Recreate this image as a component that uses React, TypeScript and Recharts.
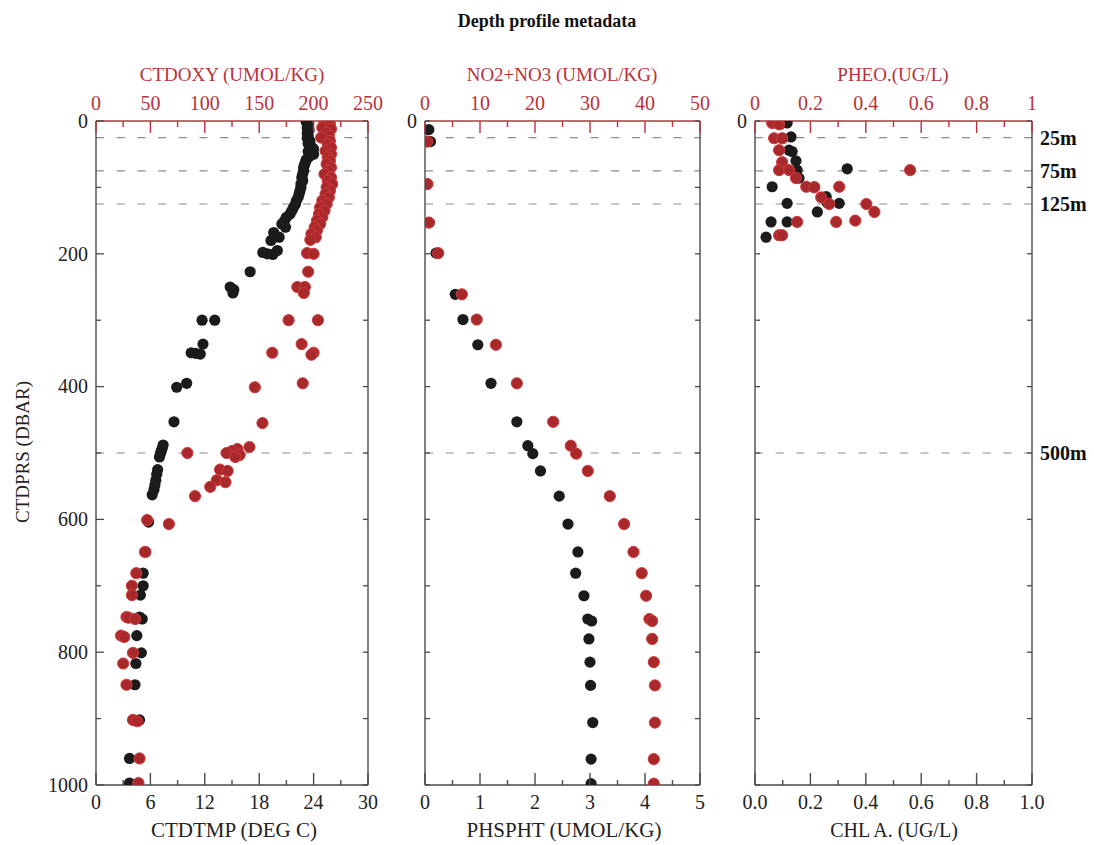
import { ReferenceLine, Scatter, ScatterChart, XAxis, YAxis } from 'recharts'

const SERIF = '"Liberation Serif", "Times New Roman", serif'
const RED = '#b8323a'
const RED_DOT = '#a8282b'
const RED_EDGE = '#d23a3a'
const BLACK_DOT = '#1b1b1b'
const AXIS = '#4a4a4a'

type Pt = [number, number] // [depth dbar, value]

const ctdtmp: Pt[] = [
  [2, 23.2], [6, 23.4], [10, 23.3], [14, 23.5], [18, 23.3], [22, 23.4], [26, 23.3], [30, 23.6],
  [34, 23.4], [38, 23.7], [42, 24.0], [46, 23.4], [50, 24.0], [54, 23.5], [58, 23.2], [62, 23.1],
  [66, 23.0], [70, 22.9], [75, 22.9], [80, 22.8], [85, 22.7], [90, 22.8], [95, 22.6], [100, 22.6],
  [105, 22.5], [110, 22.4], [115, 22.3], [120, 22.1], [125, 22.0], [130, 21.8], [135, 21.6],
  [140, 21.4], [145, 21.0], [150, 20.8], [155, 20.5], [160, 20.9], [168, 19.6], [175, 20.2],
  [180, 19.3], [198, 18.4], [200, 18.9], [201, 19.5], [195, 20.0], [227, 17.0], [250, 14.8],
  [254, 15.2], [259, 15.1], [300, 11.7], [300, 13.1], [336, 11.8], [349, 10.5], [350, 11.0],
  [351, 11.5], [395, 10.0], [401, 8.9], [453, 8.6], [488, 7.4], [493, 7.3], [497, 7.2],
  [501, 7.1], [506, 7.0], [525, 6.8], [532, 6.7], [541, 6.6], [548, 6.5], [555, 6.4], [563, 6.2],
  [604, 5.8], [649, 5.5], [681, 5.2], [700, 5.2], [714, 4.9], [747, 4.8], [750, 5.1], [775, 4.5],
  [801, 5.0], [817, 4.4], [849, 4.3], [902, 4.8], [960, 3.7], [997, 3.7],
]

const ctdoxy: Pt[] = [
  [2, 210], [5, 215], [10, 208], [12, 216], [18, 212], [22, 214], [25, 207], [30, 215], [35, 213],
  [40, 216], [45, 211], [50, 216], [55, 213], [60, 215], [65, 212], [70, 216], [75, 214],
  [80, 210], [85, 216], [90, 213], [95, 217], [100, 212], [105, 215], [110, 211], [115, 214],
  [120, 208], [125, 212], [130, 206], [135, 210], [140, 205], [145, 208], [150, 203], [155, 206],
  [160, 201], [165, 203], [170, 198], [175, 202], [179, 197], [199, 194], [200, 200], [227, 195],
  [250, 185], [250, 192], [259, 191], [300, 177], [300, 204], [336, 189], [349, 162], [349, 200],
  [352, 198], [395, 190], [401, 146], [455, 153], [491, 141], [494, 130], [497, 125], [500, 120],
  [500, 84], [503, 132], [506, 128], [525, 114], [527, 121], [541, 111], [544, 119], [551, 105],
  [565, 91], [601, 47], [607, 67], [649, 45], [681, 37], [700, 33], [714, 33], [747, 28],
  [748, 30], [750, 36], [775, 23], [777, 26], [801, 34], [817, 25], [849, 28], [902, 34],
  [904, 38], [960, 40], [997, 39],
]

const phspht: Pt[] = [
  [13, 0.07], [31, 0.1], [95, 0.05], [153, 0.08], [199, 0.2], [261, 0.55], [299, 0.69],
  [337, 0.96], [395, 1.2], [453, 1.67], [489, 1.87], [501, 1.96], [527, 2.1], [565, 2.44],
  [607, 2.6], [649, 2.78], [681, 2.74], [715, 2.89], [750, 2.96], [753, 3.03], [780, 2.98],
  [815, 3.0], [850, 3.01], [906, 3.05], [961, 3.02], [998, 3.02],
]

const no2no3: Pt[] = [
  [31, 0.4], [95, 0.4], [153, 0.7], [199, 2.4], [261, 6.7], [299, 9.4], [337, 12.9], [395, 16.7],
  [453, 23.3], [489, 26.5], [501, 27.5], [527, 29.6], [565, 33.6], [607, 36.2], [649, 37.9],
  [681, 39.4], [715, 40.2], [750, 40.8], [753, 41.3], [780, 41.3], [815, 41.6], [850, 41.8],
  [906, 41.8], [961, 41.6], [998, 41.6],
]

const chla: Pt[] = [
  [3, 0.116], [5, 0.09], [24, 0.13], [26, 0.1], [44, 0.123], [46, 0.134], [60, 0.148],
  [74, 0.152], [72, 0.333], [86, 0.159], [99, 0.062], [99, 0.214], [114, 0.257], [123, 0.261],
  [124, 0.304], [124, 0.116], [137, 0.225], [152, 0.058], [152, 0.116], [175, 0.04],
]

const pheo: Pt[] = [
  [3, 0.062], [5, 0.087], [26, 0.069], [26, 0.098], [44, 0.087], [62, 0.098], [74, 0.087],
  [74, 0.123], [74, 0.56], [86, 0.148], [99, 0.185], [100, 0.214], [99, 0.304], [115, 0.239],
  [125, 0.268], [125, 0.402], [137, 0.431], [152, 0.152], [152, 0.293], [150, 0.362],
  [172, 0.087], [172, 0.098],
]

const depthTicks = [0, 100, 200, 300, 400, 500, 600, 700, 800, 900, 1000]
const depthLabels = [0, 200, 400, 600, 800, 1000]
const tmpTicks = [0, 3, 6, 9, 12, 15, 18, 21, 24, 27, 30]
const tmpLabels = [0, 6, 12, 18, 24, 30]
const oxyTicks = [0, 25, 50, 75, 100, 125, 150, 175, 200, 225, 250]
const oxyLabels = [0, 50, 100, 150, 200, 250]
const phsTicks = [0, 0.5, 1, 1.5, 2, 2.5, 3, 3.5, 4, 4.5, 5]
const phsLabels = [0, 1, 2, 3, 4, 5]
const no3Ticks = [0, 5, 10, 15, 20, 25, 30, 35, 40, 45, 50]
const no3Labels = [0, 10, 20, 30, 40, 50]
const unitTicks = [0, 0.1, 0.2, 0.3, 0.4, 0.5, 0.6, 0.7, 0.8, 0.9, 1]
const unitLabels = [0, 0.2, 0.4, 0.6, 0.8, 1]
const refDepths = [25, 75, 125, 500]
const refLabels = ['25m', '75m', '125m', '500m']

const toXY = (pts: Pt[]) => pts.map(([d, v]) => ({ d, v }))
const has = (arr: number[], v: number) => arr.some((a) => Math.abs(a - v) < 1e-6)

type TickCfg = {
  side: 'top' | 'bottom' | 'left' | 'right'
  labels: number[]
  majors: number[]
  color: string
  textColor?: string
  fmt?: (v: number) => string
  majorLen: number
  minorLen: number
}

function makeTick(c: TickCfg) {
  return (props: any) => {
    const { x, y, payload } = props
    const v = Number(payload.value)
    const len = has(c.majors, v) ? c.majorLen : c.minorLen
    const txt = has(c.labels, v) ? (c.fmt ? c.fmt(v) : String(v)) : null
    const tc = c.textColor ?? c.color
    const common = { fill: tc, fontSize: 20, fontFamily: SERIF }
    if (c.side === 'top')
      return (
        <g>
          <line x1={x} x2={x} y1={y} y2={y + len} stroke={c.color} strokeWidth={1.4} />
          {txt && <text x={x} y={y - 11} textAnchor="middle" {...common}>{txt}</text>}
        </g>
      )
    if (c.side === 'bottom')
      return (
        <g>
          <line x1={x} x2={x} y1={y} y2={y - len} stroke={c.color} strokeWidth={1.4} />
          {txt && <text x={x} y={y + 24} textAnchor="middle" {...common}>{txt}</text>}
        </g>
      )
    if (c.side === 'left')
      return (
        <g>
          <line x1={x} x2={x + len} y1={y} y2={y} stroke={c.color} strokeWidth={1.3} />
          {txt && <text x={x - 8} y={y} dy="0.34em" textAnchor="end" {...common}>{txt}</text>}
        </g>
      )
    return (
      <g>
        <line x1={x} x2={x - len} y1={y} y2={y} stroke={c.color} strokeWidth={1.3} />
      </g>
    )
  }
}

const blackDot = (p: any) => <circle cx={p.cx} cy={p.cy} r={5.6} fill={BLACK_DOT} />
const redDot = (p: any) => (
  <circle cx={p.cx} cy={p.cy} r={5.6} fill={RED_DOT} stroke={RED_EDGE} strokeWidth={1} />
)

type PanelProps = {
  left: number
  width: number
  marginLeft: number
  marginRight: number
  leftWidth: number
  black: Pt[]
  red: Pt[]
  botDomain: [number, number]
  botTicks: number[]
  botLabels: number[]
  botFmt?: (v: number) => string
  topDomain: [number, number]
  topTicks: number[]
  topLabels: number[]
  topFmt?: (v: number) => string
  yLabels: number[]
  yMajors: number[]
  refText: boolean
}

function Panel(p: PanelProps) {
  return (
    <div style={{ position: 'absolute', left: p.left, top: 0 }}>
      <ScatterChart
        width={p.width}
        height={845}
        margin={{ top: 91, bottom: 30, left: p.marginLeft, right: p.marginRight }}
      >
        <XAxis
          xAxisId="top"
          orientation="top"
          type="number"
          dataKey="v"
          domain={p.topDomain}
          ticks={p.topTicks}
          interval={0}
          allowDataOverflow
          height={30}
          tickSize={0}
          tickMargin={0}
          tickLine={false}
          axisLine={{ stroke: '#a83a3e', strokeWidth: 1.4 }}
          tick={makeTick({
            side: 'top', labels: p.topLabels, majors: p.topLabels, color: RED,
            fmt: p.topFmt, majorLen: 12, minorLen: 6,
          })}
        />
        <XAxis
          xAxisId="bot"
          orientation="bottom"
          type="number"
          dataKey="v"
          domain={p.botDomain}
          ticks={p.botTicks}
          interval={0}
          allowDataOverflow
          height={30}
          tickSize={0}
          tickMargin={0}
          tickLine={false}
          axisLine={{ stroke: AXIS, strokeWidth: 1.4 }}
          tick={makeTick({
            side: 'bottom', labels: p.botLabels, majors: p.botLabels, color: AXIS,
            textColor: '#222', fmt: p.botFmt, majorLen: 12, minorLen: 5,
          })}
        />
        <YAxis
          yAxisId="l"
          type="number"
          dataKey="d"
          domain={[0, 1000]}
          reversed
          ticks={depthTicks}
          interval={0}
          allowDataOverflow
          width={p.leftWidth}
          tickSize={0}
          tickMargin={0}
          tickLine={false}
          axisLine={{ stroke: AXIS, strokeWidth: 1.4 }}
          tick={makeTick({
            side: 'left', labels: p.yLabels, majors: p.yMajors, color: AXIS,
            textColor: '#222', majorLen: 8, minorLen: 5,
          })}
        />
        <YAxis
          yAxisId="r"
          orientation="right"
          type="number"
          dataKey="d"
          domain={[0, 1000]}
          reversed
          ticks={depthTicks}
          interval={0}
          allowDataOverflow
          width={2}
          tickSize={0}
          tickMargin={0}
          tickLine={false}
          axisLine={{ stroke: AXIS, strokeWidth: 1.4 }}
          tick={makeTick({
            side: 'right', labels: [], majors: [], color: AXIS, majorLen: 5, minorLen: 5,
          })}
        />
        {refDepths.map((d, i) => (
          <ReferenceLine
            key={d}
            xAxisId="bot"
            yAxisId="l"
            y={d}
            stroke="#8c8c8c"
            strokeWidth={1.2}
            strokeDasharray="8 12.7"
            label={
              p.refText
                ? {
                    value: refLabels[i],
                    position: 'right',
                    offset: 8,
                    fill: '#111',
                    fontSize: 20,
                    fontWeight: 'bold',
                    fontFamily: SERIF,
                  }
                : undefined
            }
          />
        ))}
        <Scatter
          xAxisId="bot"
          yAxisId="l"
          data={toXY(p.black)}
          shape={blackDot}
          isAnimationActive={false}
        />
        <Scatter
          xAxisId="top"
          yAxisId="l"
          data={toXY(p.red)}
          shape={redDot}
          isAnimationActive={false}
        />
      </ScatterChart>
    </div>
  )
}

const titleStyle = (x: number, y: number, extra: any = {}) => ({
  position: 'absolute' as const,
  left: x,
  top: y,
  transform: 'translate(-50%, -50%)',
  fontFamily: SERIF,
  fontSize: 19,
  lineHeight: 1,
  whiteSpace: 'nowrap' as const,
  ...extra,
})

export default function App() {
  const unitTop = (v: number) => (v === 0 ? '0' : v === 1 ? '1' : v.toFixed(1))
  const unitBot = (v: number) => v.toFixed(1)
  return (
    <div
      style={{
        position: 'absolute',
        left: 0,
        top: 0,
        width: 1094,
        height: 845,
        background: '#fff',
        overflow: 'hidden',
      }}
    >
      <Panel
        left={0} width={390} marginLeft={36} marginRight={20} leftWidth={60}
        black={ctdtmp} red={ctdoxy}
        botDomain={[0, 30]} botTicks={tmpTicks} botLabels={tmpLabels}
        topDomain={[0, 250]} topTicks={oxyTicks} topLabels={oxyLabels}
        yLabels={depthLabels} yMajors={depthLabels} refText={false}
      />
      <Panel
        left={380} width={340} marginLeft={15} marginRight={18} leftWidth={30}
        black={phspht} red={no2no3}
        botDomain={[0, 5]} botTicks={phsTicks} botLabels={phsLabels}
        topDomain={[0, 50]} topTicks={no3Ticks} topLabels={no3Labels}
        yLabels={[0]} yMajors={[]} refText={false}
      />
      <Panel
        left={720} width={374} marginLeft={5} marginRight={60} leftWidth={30}
        black={chla} red={pheo}
        botDomain={[0, 1]} botTicks={unitTicks} botLabels={unitLabels} botFmt={unitBot}
        topDomain={[0, 1]} topTicks={unitTicks} topLabels={unitLabels} topFmt={unitTop}
        yLabels={[0]} yMajors={[]} refText
      />

      <div style={titleStyle(547, 21, { fontWeight: 'bold', fontSize: 18, color: '#111' })}>
        Depth profile metadata
      </div>
      <div style={titleStyle(232, 74, { color: RED })}>CTDOXY (UMOL/KG)</div>
      <div style={titleStyle(562, 74, { color: RED })}>NO2+NO3 (UMOL/KG)</div>
      <div style={titleStyle(893, 74, { color: RED })}>PHEO.(UG/L)</div>
      <div style={titleStyle(234, 830, { color: '#222', fontSize: 21 })}>CTDTMP (DEG C)</div>
      <div style={titleStyle(564, 830, { color: '#222', fontSize: 21 })}>PHSPHT (UMOL/KG)</div>
      <div style={titleStyle(894, 830, { color: '#222', fontSize: 20 })}>CHL A. (UG/L)</div>
      <div
        style={titleStyle(22, 452, {
          color: '#222',
          transform: 'translate(-50%, -50%) rotate(-90deg)',
        })}
      >
        CTDPRS (DBAR)
      </div>
    </div>
  )
}
